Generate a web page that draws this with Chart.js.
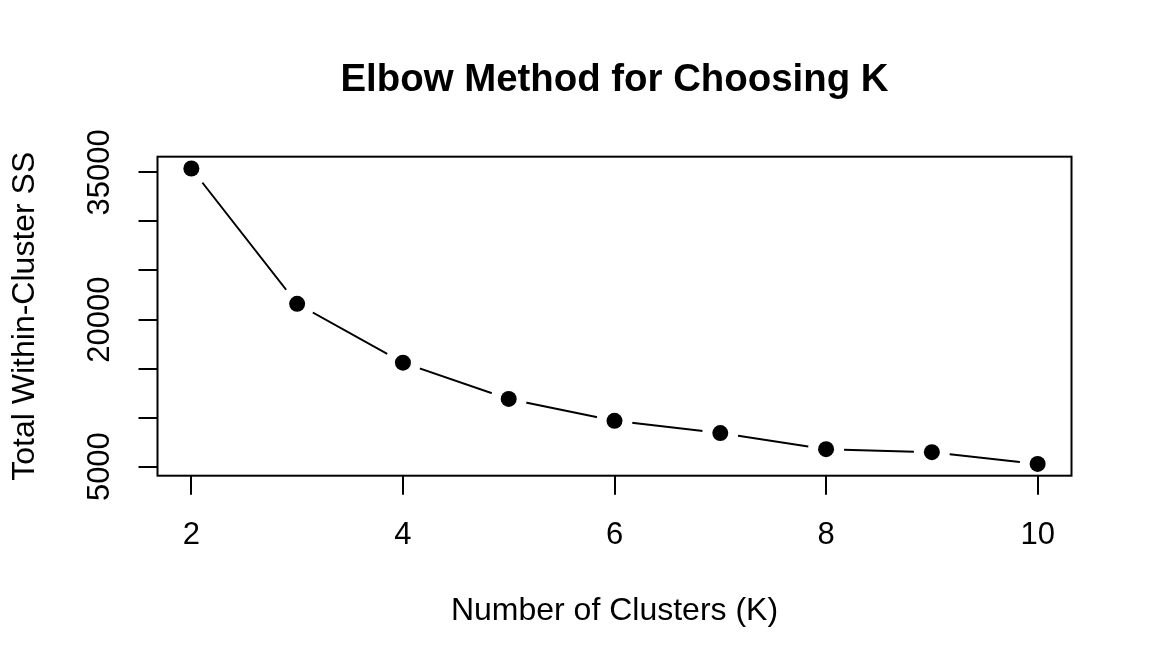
<!DOCTYPE html>
<html>
<head>
<meta charset="utf-8">
<script src="https://cdn.jsdelivr.net/npm/chart.js@4"></script>
<style>
  html, body { margin: 0; padding: 0; background: #ffffff; }
  #wrap { width: 1152px; height: 672px; position: relative; }
</style>
</head>
<body>
<div id="wrap"><canvas id="c"></canvas></div>
<script>
// ---- data ----
const clusters = [2, 3, 4, 5, 6, 7, 8, 9, 10];
const withinSS = [35400, 21600, 15600, 11900, 9670, 8420, 6780, 6470, 5280];
const xTicks = [2, 4, 6, 8, 10];
const yTicks = [5000, 10000, 15000, 20000, 25000, 30000, 35000];
const yTickLabels = [5000, 20000, 35000];

const titleText = 'Elbow Method for Choosing K';
const xTitle = 'Number of Clusters (K)';
const yTitle = 'Total Within-Cluster SS';

// R-style 4% axis extension
function extend(arr) {
  const lo = Math.min(...arr), hi = Math.max(...arr);
  const d = (hi - lo) * 0.04;
  return [lo - d, hi + d];
}
const [xMin, xMax] = extend(clusters);
const [yMin, yMax] = extend(withinSS);

const points = clusters.map((k, i) => ({ x: k, y: withinSS[i] }));

Chart.defaults.font.family = "'Liberation Sans', Arial, Helvetica, sans-serif";
Chart.defaults.color = '#000000';

const boxPlugin = {
  id: 'box',
  afterDatasetsDraw(chart) {
    const { ctx, chartArea: a } = chart;
    ctx.save();
    ctx.strokeStyle = '#000000';
    ctx.lineWidth = 2;
    ctx.strokeRect(a.left, a.top, a.right - a.left, a.bottom - a.top);
    ctx.restore();
  }
};

new Chart(document.getElementById('c'), {
  type: 'line',
  data: {
    datasets: [
      {
        // filled points
        data: points,
        showLine: false,
        pointRadius: 8,
        pointBackgroundColor: '#000000',
        pointBorderWidth: 0,
        order: 0
      },
      {
        // connecting line with gaps around the points (R type = "b")
        data: points,
        borderColor: '#000000',
        borderWidth: 2,
        tension: 0,
        fill: false,
        pointRadius: 18,
        pointBackgroundColor: '#ffffff',
        pointBorderWidth: 0,
        order: 1
      }
    ]
  },
  options: {
    responsive: true,
    maintainAspectRatio: false,
    animation: false,
    events: [],
    layout: { padding: { left: 0, right: 80.5, top: 0, bottom: 0 } },
    plugins: {
      legend: { display: false },
      tooltip: { enabled: false },
      title: {
        display: true,
        text: titleText,
        fullSize: false,
        color: '#000000',
        font: { size: 38.4, weight: 'bold', lineHeight: 1.2 },
        padding: { top: 57.4, bottom: 53.2 }
      }
    },
    scales: {
      x: {
        type: 'linear',
        position: 'bottom',
        min: xMin,
        max: xMax,
        afterBuildTicks(s) { s.ticks = xTicks.map(v => ({ value: v })); },
        afterFit(s) { s.height = 196.3; },
        border: { display: false },
        grid: {
          drawOnChartArea: false,
          drawTicks: true,
          tickLength: 19,
          color: '#000000',
          lineWidth: 2
        },
        ticks: {
          font: { size: 31 },
          color: '#000000',
          padding: 21.7,
          maxRotation: 0,
          autoSkip: false,
          callback: v => String(v)
        },
        title: {
          display: true,
          text: xTitle,
          color: '#000000',
          font: { size: 32, lineHeight: 1.2 },
          padding: { top: 0, bottom: 41.8 }
        }
      },
      y: {
        type: 'linear',
        position: 'left',
        min: yMin,
        max: yMax,
        afterBuildTicks(s) { s.ticks = yTicks.map(v => ({ value: v })); },
        afterFit(s) { s.width = 157.5; },
        border: { display: false },
        grid: {
          drawOnChartArea: false,
          drawTicks: true,
          tickLength: 19,
          color: '#000000',
          lineWidth: 2
        },
        ticks: {
          font: { size: 31 },
          color: '#000000',
          minRotation: 90,
          maxRotation: 90,
          crossAlign: 'center',
          padding: -5.1,
          autoSkip: false,
          callback: v => (yTickLabels.includes(v) ? String(v) : '')
        },
        title: {
          display: true,
          text: yTitle,
          color: '#000000',
          font: { size: 32, lineHeight: 1.2 },
          padding: { top: 5.8, bottom: 0 }
        }
      }
    }
  },
  plugins: [boxPlugin]
});
</script>
</body>
</html>
